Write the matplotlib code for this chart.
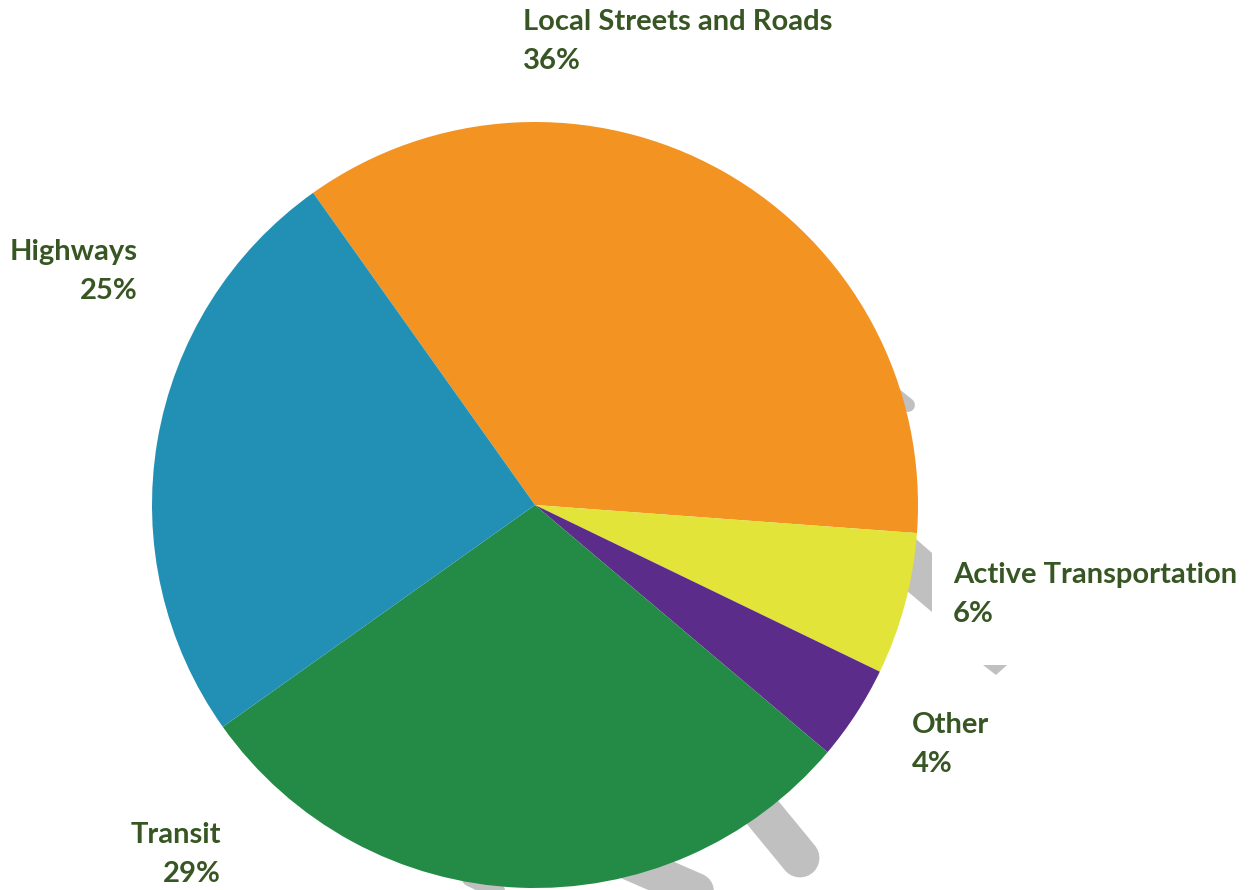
import numpy as np
import matplotlib.pyplot as plt

# data
labels = ['Local Streets and Roads', 'Active Transportation', 'Other', 'Transit', 'Highways']
shares = [36, 6, 4, 29, 25]
colors = ['#F39322', '#E2E43A', '#5B2C8A', '#238B45', '#2290B5']

# label anchors in pixel coords (x, y from top), alignment
label_pos = [(523, 22, 'left'), (953, 575, 'left'), (912, 725, 'left'),
             (221, 835, 'right'), (138, 252, 'right')]

W, H = 1258, 890
plt.rcParams['font.family'] = ['Lato', 'DejaVu Sans']
fig = plt.figure(figsize=(W / 100, H / 100), dpi=100)
ax = fig.add_axes([0, 0, 1, 1])

cx, cy, r = 535, H - 505, 383
shadow = '#C0C0C0'

# grey shadow bits peeking out behind the pie (pixel coords, y from top)
for (x0, y0), (x1, y1), lw in [((893, 393), (908, 405), 10),
                               ((740, 785), (800, 858), 28),
                               ((590, 845), (705, 895), 26),
                               ((470, 878), (505, 895), 12)]:
    ax.plot([x0, x1], [H - y0, H - y1], color=shadow, lw=lw,
            solid_capstyle='round', zorder=0)
for poly in [[(900, 525), (932, 553), (932, 612), (900, 585)],
             [(983, 665), (1007, 665), (996, 675)]]:
    xs, ys = zip(*poly)
    ax.fill(xs, [H - y for y in ys], color=shadow, lw=0, zorder=0)

ax.pie(shares, colors=colors, startangle=125.4, counterclock=False,
       center=(cx, cy), radius=r, frame=True,
       wedgeprops=dict(linewidth=0, antialiased=True))
ax.set_xlim(0, W)
ax.set_ylim(0, H)
ax.axis('off')

txt_color = '#375623'
for lab, v, (x, y, ha) in zip(labels, shares, label_pos):
    ax.text(x, H - y, lab, ha=ha, va='center', fontsize=21, fontweight='bold', color=txt_color)
    ax.text(x, H - y - 39, f'{v}%', ha=ha, va='center', fontsize=21, fontweight='bold', color=txt_color)

fig.savefig('out.png', dpi=100)
